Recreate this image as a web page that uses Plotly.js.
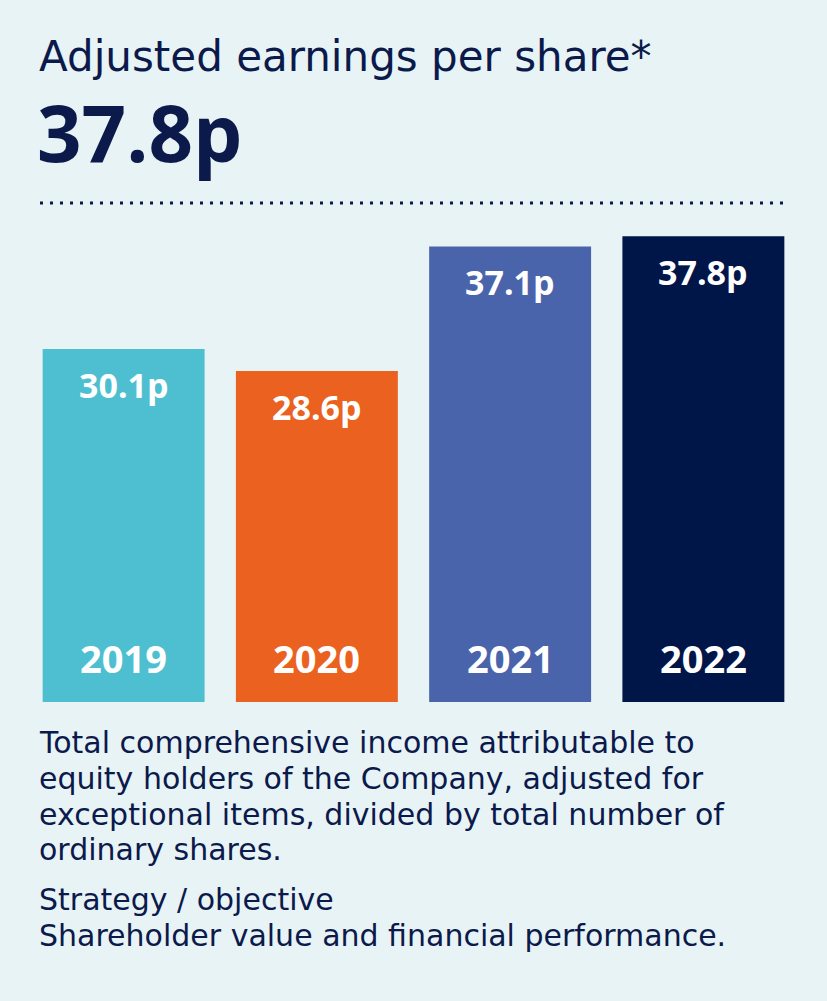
<!DOCTYPE html>
<html>
<head>
<meta charset="utf-8">
<script src="https://cdn.plot.ly/plotly-3.0.1.min.js"></script>
<style>html,body{margin:0;padding:0;background:#e8f3f6;}</style>
</head>
<body>
<div id="chart" style="width:827px;height:1001px;"></div>
<script>
const years = ['2019', '2020', '2021', '2022'];
const eps = [30.1, 28.6, 37.1, 37.8];
const valueLabels = ['30.1p', '28.6p', '37.1p', '37.8p'];
const barColors = ['#4ebfd0', '#ea6120', '#4a64ac', '#001649'];
const titleText = 'Adjusted earnings per share*';
const headline = '37.8p';
const descLines = [
  'Total comprehensive income attributable to',
  'equity holders of the Company, adjusted for',
  'exceptional items, divided by total number of',
  'ordinary shares.'
];
const strategyHead = 'Strategy / objective';
const strategyText = 'Shareholder value and financial performance.';

const W = 827, H = 1001, L = 27, R = 27, T = 204, B = 299;
const pw = W - L - R, ph = H - T - B;
const px2x = p => (p - L) / pw;
const py2y = p => (H - B - p) / ph;
const navy = '#0b1a4b';
const regFont = 'DejaVu Sans';
const boldFont = 'Open Sans';

const annotations = [];
function textAt(text, pxLeft, pyCenter, size, family, weight) {
  annotations.push({
    text: text, xref: 'paper', yref: 'paper', x: px2x(pxLeft), y: py2y(pyCenter),
    xanchor: 'left', yanchor: 'middle', showarrow: false, borderpad: 0,
    font: {family: family, size: size, color: navy, weight: weight || 400}
  });
}
textAt(titleText, 38, 56, 42, regFont, 400);
textAt(headline, 36, 132, 78, boldFont, 700);
const descCenters = [742, 778, 814, 849];
descLines.forEach((t, i) => textAt(t, 38, descCenters[i], 30, regFont, 400));
textAt(strategyHead, 38, 899, 30, regFont, 400);
textAt(strategyText, 38, 935, 30, regFont, 400);

years.forEach((y, i) => {
  annotations.push({
    text: valueLabels[i], x: i, y: eps[i], xref: 'x', yref: 'y',
    xanchor: 'center', yanchor: 'middle', yshift: -36, showarrow: false,
    font: {family: boldFont, size: 34, color: '#ffffff', weight: 700}
  });
  annotations.push({
    text: y, x: i, y: 6, xref: 'x', yref: 'y',
    xanchor: 'center', yanchor: 'middle', yshift: 44, showarrow: false,
    font: {family: boldFont, size: 38, color: '#ffffff', weight: 700}
  });
});

const data = [{
  type: 'bar', x: years, y: eps,
  marker: {color: barColors, line: {width: 0}},
  hoverinfo: 'skip', textposition: 'none'
}];

const layout = {
  width: W, height: H,
  margin: {l: L, r: R, t: T, b: B, pad: 0},
  paper_bgcolor: '#e8f3f6', plot_bgcolor: 'rgba(0,0,0,0)',
  showlegend: false, bargap: 0.162,
  xaxis: {type: 'category', range: [-0.5, 3.5], visible: false, fixedrange: true},
  yaxis: {range: [6, 40], visible: false, fixedrange: true},
  shapes: [{
    type: 'line', xref: 'paper', yref: 'paper',
    x0: px2x(40), x1: px2x(785), y0: py2y(203), y1: py2y(203),
    line: {color: navy, width: 3, dash: '3px,7px'}
  }],
  annotations: annotations
};

Plotly.newPlot('chart', data, layout, {displayModeBar: false, staticPlot: true});
</script>
</body>
</html>
